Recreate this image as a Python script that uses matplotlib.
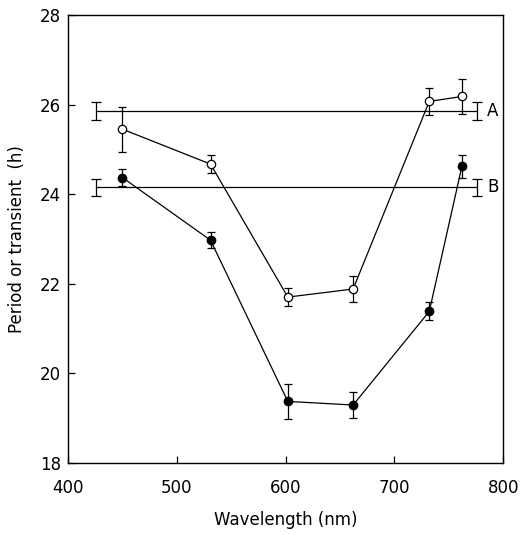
import matplotlib
matplotlib.use("Agg")
import matplotlib.pyplot as plt

# open circles
wl_open = [450, 531, 602, 662, 732, 762]
open_vals = [25.45, 24.67, 21.70, 21.88, 26.07, 26.18]
open_err = [0.50, 0.20, 0.20, 0.28, 0.30, 0.40]

# filled circles
wl_filled = [450, 531, 602, 662, 732, 762]
filled_vals = [24.37, 22.97, 19.37, 19.29, 21.38, 24.62]
filled_err = [0.19, 0.18, 0.40, 0.30, 0.20, 0.26]

# reference lines A and B (mean +/- err at ends)
ref_x = [426, 776]
ref_labels = ["A", "B"]
ref_vals = [25.86, 24.15]
ref_err = [0.20, 0.19]

fig = plt.figure(figsize=(5.27, 5.35), dpi=100)
ax = fig.add_axes([0.129, 0.135, 0.826, 0.837])

lw = 0.9
for lab, v, e in zip(ref_labels, ref_vals, ref_err):
    ax.errorbar(ref_x, [v, v], yerr=[e, e], fmt="-", color="black", lw=lw,
                elinewidth=lw, capsize=3.5, capthick=lw)
    ax.text(ref_x[1] + 9, v, lab, ha="left", va="center", fontsize=12)

ax.errorbar(wl_open, open_vals, yerr=open_err, fmt="-o", color="black", lw=lw,
            elinewidth=lw, capsize=3, capthick=lw, ms=6, mfc="white",
            mec="black", mew=lw, zorder=3)
ax.errorbar(wl_filled, filled_vals, yerr=filled_err, fmt="-o", color="black",
            lw=lw, elinewidth=lw, capsize=3, capthick=lw, ms=6, mfc="black",
            mec="black", zorder=3)

ax.set_xlim(400, 800)
ax.set_ylim(18, 28)
ax.set_xticks([400, 500, 600, 700, 800])
ax.set_yticks([18, 20, 22, 24, 26, 28])
ax.tick_params(direction="in", length=5, width=lw, labelsize=12, pad=5)
ax.tick_params(axis="x", pad=12)
for s in ax.spines.values():
    s.set_linewidth(1.0)

ax.set_xlabel("Wavelength (nm)", fontsize=12, labelpad=10)
ax.set_ylabel("Period or transient  (h)", fontsize=12, labelpad=10)

fig.savefig("out.png")
